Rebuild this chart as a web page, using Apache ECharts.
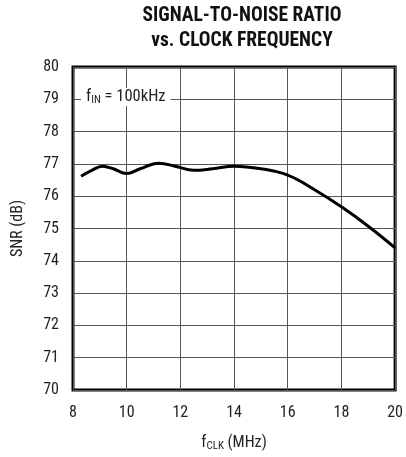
<!DOCTYPE html>
<html><head><meta charset="utf-8">
<script src="https://cdn.jsdelivr.net/npm/echarts@6/dist/echarts.min.js"></script>
<style>html,body{margin:0;padding:0;background:#fff}#c{width:406px;height:457px}</style>
</head><body><div id="c"></div>
<script>
const freqMHz = [8.3, 8.7, 9.1, 9.5, 10.0, 10.5, 11.2, 11.8, 12.5, 13.2, 14.0, 15.0, 16.0, 17.0, 18.0, 19.0, 20.0];
const snrDb   = [76.62, 76.8, 76.93, 76.85, 76.7, 76.85, 77.02, 76.93, 76.8, 76.85, 76.93, 76.85, 76.65, 76.2, 75.67, 75.07, 74.4];
const xTicks = [8, 10, 12, 14, 16, 18, 20];
const yTicks = [70, 71, 72, 73, 74, 75, 76, 77, 78, 79, 80];
const titleLines = ['SIGNAL-TO-NOISE RATIO', 'vs. CLOCK FREQUENCY'];
const FONT = '"Roboto Condensed", "Liberation Sans", Arial, sans-serif';
const TXT = '#222';

const chart = echarts.init(document.getElementById('c'), null, {renderer: 'canvas'});
chart.setOption({
  animation: false,
  backgroundColor: '#fff',
  title: {
    text: titleLines.join('\n'),
    left: 237, top: -1, textAlign: 'center',
    textStyle: {fontFamily: FONT, fontWeight: 'bold', fontSize: 19.5, color: '#111', lineHeight: 25}
  },
  grid: {left: 73, right: 5, top: 67, bottom: 64, show: true, borderColor: '#000', borderWidth: 3},
  xAxis: {
    type: 'value', min: xTicks[0], max: xTicks[xTicks.length - 1], interval: 2,
    axisLine: {show: false}, axisTick: {show: false},
    splitLine: {show: true, lineStyle: {color: '#555', width: 1}},
    axisLabel: {fontFamily: FONT, fontSize: 16, color: TXT, margin: 15},
    name: '{a|f}{s|CLK}{a| (MHz)}', nameLocation: 'middle', nameGap: 44,
    nameTextStyle: {rich: {
      a: {fontFamily: FONT, fontSize: 16, color: TXT},
      s: {fontFamily: FONT, fontSize: 11, color: TXT, padding: [7, 0, 0, 0]}
    }}
  },
  yAxis: {
    type: 'value', min: yTicks[0], max: yTicks[yTicks.length - 1], interval: 1,
    axisLine: {show: false}, axisTick: {show: false},
    splitLine: {show: true, lineStyle: {color: '#555', width: 1}},
    axisLabel: {fontFamily: FONT, fontSize: 16, color: TXT, margin: 14},
    name: 'SNR (dB)', nameLocation: 'middle', nameGap: 47,
    nameTextStyle: {fontFamily: FONT, fontSize: 16, color: TXT}
  },
  graphic: [{
    type: 'text', left: 81, top: 88, z: 100,
    style: {
      text: '{a|f}{s|IN}{a| = 100kHz}',
      backgroundColor: '#fff', padding: [0, 5, 0, 5],
      rich: {
        a: {fontFamily: FONT, fontSize: 16.5, fill: TXT, backgroundColor: '#fff'},
        s: {fontFamily: FONT, fontSize: 11, fill: TXT, backgroundColor: '#fff', padding: [7, 0, 0, 0]}
      }
    }
  }],
  series: [{
    type: 'line', smooth: 0.4, symbol: 'none',
    data: freqMHz.map((f, i) => [f, snrDb[i]]),
    lineStyle: {color: '#000', width: 3}
  }]
});
</script></body></html>
